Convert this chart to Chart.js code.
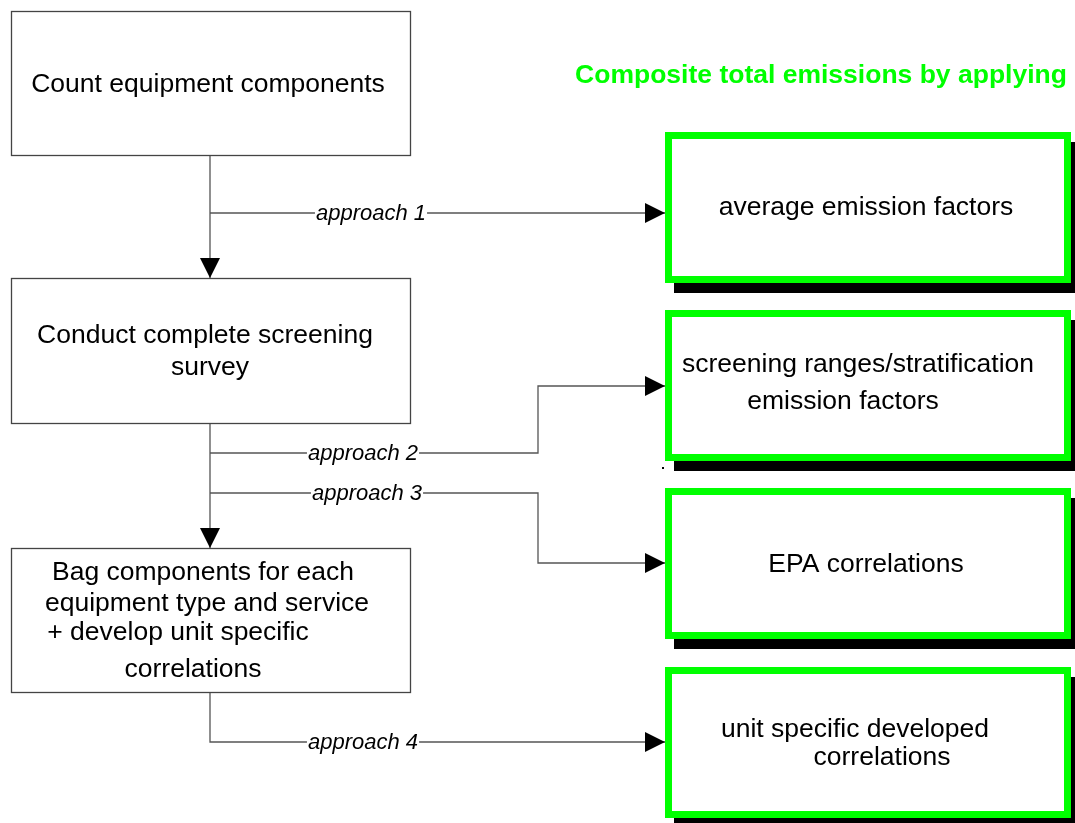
<!DOCTYPE html>
<html>
<head>
<meta charset="utf-8">
<script src="https://cdn.jsdelivr.net/npm/chart.js@4.4.1/dist/chart.umd.min.js"></script>
<style>
  html, body { margin: 0; padding: 0; background: #ffffff; }
  #wrap { width: 1075px; height: 823px; position: relative; }
</style>
</head>
<body>
<div id="wrap"><canvas id="c"></canvas></div>
<script>
// ---------- content (text values) ----------
const titleText = "Composite total emissions by applying";
const stepTexts = [
  ["Count equipment components"],
  ["Conduct complete screening", "survey"],
  ["Bag components for each", "equipment type and service", "+ develop unit specific", "correlations"]
];
const resultTexts = [
  ["average emission factors"],
  ["screening ranges/stratification", "emission factors"],
  ["EPA correlations"],
  ["unit specific developed", "correlations"]
];
const approachLabels = ["approach 1", "approach 2", "approach 3", "approach 4"];

// ---------- layout (diagram units = scale values) ----------
const stepBoxes = [
  { x0: 11, y0: 11, x1: 410, y1: 155 },
  { x0: 11, y0: 278, x1: 410, y1: 423 },
  { x0: 11, y0: 548, x1: 410, y1: 692 }
];
const stepLinePos = [
  [[208, 85]],
  [[205, 336], [210, 368]],
  [[203, 573], [207, 604], [178, 633], [193, 670]]
];
const resultBoxes = [
  { x0: 665, y0: 132, x1: 1071, y1: 283 },
  { x0: 665, y0: 310, x1: 1071, y1: 461 },
  { x0: 665, y0: 488, x1: 1071, y1: 639 },
  { x0: 665, y0: 667, x1: 1071, y1: 818 }
];
const resultLinePos = [
  [[866, 208]],
  [[858, 365], [843, 402]],
  [[866, 565]],
  [[855, 730], [882, 758]]
];
const approachLabelPos = [[371, 214], [363, 454], [367, 494], [363, 743]];
const titlePos = [821, 76];

// connector paths (last point is an arrow tip)
const connectors = [
  { pts: [[210, 155], [210, 278]], arrow: true },
  { pts: [[210, 213], [665, 213]], arrow: true },
  { pts: [[210, 423], [210, 548]], arrow: true },
  { pts: [[210, 453], [538, 453], [538, 386], [665, 386]], arrow: true },
  { pts: [[210, 493], [538, 493], [538, 563], [665, 563]], arrow: true },
  { pts: [[210, 692], [210, 742], [665, 742]], arrow: true }
];

const FONT = '"Liberation Sans", Arial, Helvetica, sans-serif';

const datasets = connectors.map(c => ({
  data: c.pts.map(p => ({ x: p[0], y: p[1] })),
  showLine: true,
  borderColor: '#555555',
  borderWidth: 1.3,
  pointRadius: 0,
  fill: false,
  tension: 0
}));

const diagramPlugin = {
  id: 'diagram',
  afterDatasetsDraw(chart) {
    const ctx = chart.ctx;
    const sx = chart.scales.x, sy = chart.scales.y;
    const X = v => sx.getPixelForValue(v);
    const Y = v => sy.getPixelForValue(v);
    ctx.save();

    // arrowheads
    ctx.fillStyle = '#000000';
    connectors.forEach(c => {
      if (!c.arrow) return;
      const a = c.pts[c.pts.length - 2], b = c.pts[c.pts.length - 1];
      const tx = X(b[0]), ty = Y(b[1]);
      const dx = X(b[0]) - X(a[0]), dy = Y(b[1]) - Y(a[1]);
      const len = Math.hypot(dx, dy) || 1;
      const ux = dx / len, uy = dy / len;
      const L = 20, W = 10;
      ctx.beginPath();
      ctx.moveTo(tx, ty);
      ctx.lineTo(tx - ux * L - uy * W, ty - uy * L + ux * W);
      ctx.lineTo(tx - ux * L + uy * W, ty - uy * L - ux * W);
      ctx.closePath();
      ctx.fill();
    });

    // step boxes
    stepBoxes.forEach((b, i) => {
      const x0 = X(b.x0), y0 = Y(b.y0), x1 = X(b.x1), y1 = Y(b.y1);
      ctx.fillStyle = '#ffffff';
      ctx.fillRect(x0, y0, x1 - x0, y1 - y0);
      ctx.strokeStyle = '#444444';
      ctx.lineWidth = 1.3;
      ctx.strokeRect(x0 + 0.5, y0 + 0.5, x1 - x0, y1 - y0);
      ctx.fillStyle = '#000000';
      ctx.font = '26.5px ' + FONT;
      ctx.textAlign = 'center';
      ctx.textBaseline = 'middle';
      stepTexts[i].forEach((t, j) => {
        const p = stepLinePos[i][j];
        ctx.fillText(t, X(p[0]), Y(p[1]));
      });
    });

    // result boxes with shadow
    resultBoxes.forEach((b, i) => {
      const x0 = X(b.x0), y0 = Y(b.y0), x1 = X(b.x1), y1 = Y(b.y1);
      const w = x1 - x0, h = y1 - y0;
      ctx.fillStyle = '#000000';
      ctx.fillRect(x0 + 9, y0 + 10, w, h);
      ctx.fillStyle = '#ffffff';
      ctx.fillRect(x0, y0, w, h);
      ctx.strokeStyle = '#00ff00';
      ctx.lineWidth = 7;
      ctx.strokeRect(x0 + 3.5, y0 + 3.5, w - 7, h - 7);
      ctx.fillStyle = '#000000';
      ctx.font = '26.5px ' + FONT;
      ctx.textAlign = 'center';
      ctx.textBaseline = 'middle';
      resultTexts[i].forEach((t, j) => {
        const p = resultLinePos[i][j];
        ctx.fillText(t, X(p[0]), Y(p[1]));
      });
    });

    // stray dot below second result box
    ctx.fillStyle = '#000000';
    ctx.fillRect(X(662), Y(467), 2, 2);

    // approach labels (white backing breaks the line)
    ctx.font = 'italic 22px ' + FONT;
    ctx.textAlign = 'center';
    ctx.textBaseline = 'middle';
    approachLabels.forEach((t, i) => {
      const p = approachLabelPos[i];
      const w = ctx.measureText(t).width;
      ctx.fillStyle = '#ffffff';
      ctx.fillRect(X(p[0]) - w / 2 - 1, Y(p[1]) - 12, w + 2, 22);
      ctx.fillStyle = '#000000';
      ctx.fillText(t, X(p[0]), Y(p[1]));
    });

    // title
    ctx.font = 'bold 26.5px ' + FONT;
    ctx.fillStyle = '#00ff00';
    ctx.textAlign = 'center';
    ctx.textBaseline = 'middle';
    ctx.fillText(titleText, X(titlePos[0]), Y(titlePos[1]));

    ctx.restore();
  }
};

new Chart(document.getElementById('c'), {
  type: 'scatter',
  data: { datasets },
  options: {
    responsive: true,
    maintainAspectRatio: false,
    animation: false,
    layout: { padding: 0 },
    scales: {
      x: { type: 'linear', min: 0, max: 1075, display: false },
      y: { type: 'linear', min: 0, max: 823, reverse: true, display: false }
    },
    plugins: { legend: { display: false }, tooltip: { enabled: false }, title: { display: false } },
    events: []
  },
  plugins: [diagramPlugin]
});
</script>
</body>
</html>
